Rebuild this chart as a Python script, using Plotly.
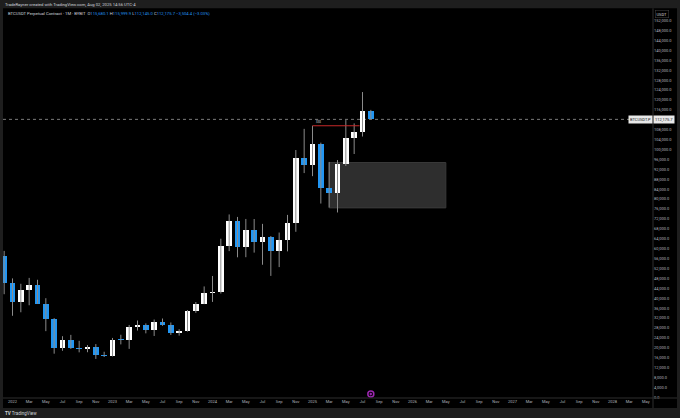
import plotly.graph_objects as go

# ---------------- data (monthly BTCUSDT perpetual, Bybit) ----------------
months = ["Dec 2021",
          "Jan 2022", "Feb 2022", "Mar 2022", "Apr 2022", "May 2022", "Jun 2022",
          "Jul 2022", "Aug 2022", "Sep 2022", "Oct 2022", "Nov 2022", "Dec 2022",
          "Jan 2023", "Feb 2023", "Mar 2023", "Apr 2023", "May 2023", "Jun 2023",
          "Jul 2023", "Aug 2023", "Sep 2023", "Oct 2023", "Nov 2023", "Dec 2023",
          "Jan 2024", "Feb 2024", "Mar 2024", "Apr 2024", "May 2024", "Jun 2024",
          "Jul 2024", "Aug 2024", "Sep 2024", "Oct 2024", "Nov 2024", "Dec 2024",
          "Jan 2025", "Feb 2025", "Mar 2025", "Apr 2025", "May 2025", "Jun 2025",
          "Jul 2025", "Aug 2025"]
opens = [56950,
         46200, 38480, 43170, 45510, 37630, 31800, 19930, 23300, 20050, 19420, 20490, 17160,
         16540, 23130, 23100, 28470, 29250, 27210, 30470, 29230, 25940, 26960, 34640, 37720,
         42280, 42580, 61160, 71330, 60670, 67530, 62770, 64630, 58980, 63330, 70290, 96400,
         93570, 102420, 84350, 82550, 94190, 104600, 107150, 115680.1]
highs = [59100,
         47990, 45820, 48190, 47440, 40000, 31960, 24670, 25200, 22800, 21080, 21480, 18390,
         23960, 25250, 29190, 31000, 29820, 31390, 31800, 30200, 27490, 35200, 38450, 44750,
         48970, 64000, 73800, 72800, 71980, 71960, 70000, 65100, 66500, 73620, 99800, 108350,
         109600, 102780, 95000, 95750, 111900, 110550, 123200, 115999.9]
lows = [41600,
        32900, 34320, 37150, 37700, 26700, 17600, 18780, 19520, 18150, 18190, 15480, 16260,
        16500, 21350, 19550, 26940, 25810, 24750, 28860, 25160, 24900, 26540, 34080, 37600,
        38500, 41870, 59000, 56500, 56550, 58400, 53500, 49000, 52550, 58900, 66800, 90500,
        89250, 78200, 76600, 74600, 93350, 98200, 105250, 112145.0]
closes = [46200,
          38480, 43170, 45510, 37630, 31800, 19930, 23300, 20050, 19420, 20490, 17160, 16540,
          23130, 23100, 28470, 29250, 27210, 30470, 29230, 25940, 26960, 34640, 37720, 42280,
          42580, 61160, 71330, 60670, 67530, 62770, 64630, 58980, 63330, 70290, 96400, 93570,
          102420, 84350, 82550, 94190, 104600, 107150, 115680.1, 112175.7]

# bar index: Jan 2022 = 0
idx = list(range(-1, len(months) - 1))

# time-axis labels (every 2 months), index 0 = Jan 2022
tick_idx = list(range(0, 77, 2))
month_abbr = ["Jan", "Feb", "Mar", "Apr", "May", "Jun", "Jul", "Aug", "Sep", "Oct", "Nov", "Dec"]
tick_txt = [str(2022 + i // 12) if i % 12 == 0 else month_abbr[i % 12] for i in tick_idx]

# price-axis labels
price_ticks = list(range(0, 152001, 4000))
price_txt = [f"{v:,.1f}" for v in price_ticks]

# drawings
zone_low, zone_high = 76450, 94750          # grey demand zone
zone_start, zone_end = 38, 52               # Mar 2025 -> May 2026
sweep_bar = months.index("Jan 2025")        # high used for red line
sweep_end = 41.65
icon_price = 1300

# ---------------- styling ----------------
BLUE = "#2196f3"
WHITE = "#ffffff"
WICK = "#8a8a8a"
TXT = "#b2b5be"
BAR_BG = "#1e1e1e"
LINE = "#2e2e2e"
FONT = "Roboto"
W, H = 680, 418

def px_x(p):
    return p / W

def px_y(p):
    return 1 - p / H

MIN_BODY = 400
body_base = [min(o, c) for o, c in zip(opens, closes)]
body_h = [max(abs(c - o), MIN_BODY) for o, c in zip(opens, closes)]
body_col = [WHITE if c >= o else BLUE for o, c in zip(opens, closes)]

wx, wy = [], []
for i, h, l in zip(idx, highs, lows):
    wx += [i, i, None]
    wy += [l, h, None]

fig = go.Figure()
fig.add_trace(go.Scatter(x=wx, y=wy, mode="lines", line=dict(color=WICK, width=1),
                         hoverinfo="skip", showlegend=False))
fig.add_trace(go.Bar(x=idx, y=body_h, base=body_base, width=0.68,
                     marker=dict(color=body_col, line=dict(width=0)),
                     hoverinfo="skip", showlegend=False))
fig.add_trace(go.Scatter(x=[idx[-1]], y=[icon_price], mode="markers",
                         marker=dict(symbol="circle-open-dot", size=6, color="#9c27b0",
                                     line=dict(width=1.5, color="#9c27b0")),
                         cliponaxis=False, hoverinfo="skip", showlegend=False))

shapes = []
# outer grey bars
shapes += [
    dict(type="rect", xref="paper", yref="paper", x0=0, x1=1, y0=px_y(8.3), y1=1,
         fillcolor=BAR_BG, line_width=0, layer="below"),
    dict(type="rect", xref="paper", yref="paper", x0=0, x1=1, y0=0, y1=px_y(408),
         fillcolor=BAR_BG, line_width=0, layer="below"),
    dict(type="rect", xref="paper", yref="paper", x0=0, x1=px_x(3), y0=0, y1=1,
         fillcolor=BAR_BG, line_width=0, layer="below"),
    dict(type="rect", xref="paper", yref="paper", x0=px_x(677), x1=1, y0=0, y1=1,
         fillcolor=BAR_BG, line_width=0, layer="below"),
    # separators
    dict(type="line", xref="paper", yref="paper", x0=px_x(3), x1=px_x(677),
         y0=px_y(398), y1=px_y(398), line=dict(color=LINE, width=1)),
    dict(type="line", xref="paper", yref="paper", x0=px_x(653), x1=px_x(653),
         y0=px_y(8.3), y1=px_y(408), line=dict(color=LINE, width=1)),
]
# grey zone
shapes.append(dict(type="rect", xref="x", yref="y", x0=zone_start, x1=zone_end,
                   y0=zone_low, y1=zone_high, fillcolor="#2e2e2e",
                   line=dict(color="#3a3a3a", width=1), layer="below"))
# dotted last price line
shapes.append(dict(type="line", xref="paper", yref="y", x0=px_x(3), x1=px_x(632),
                   y0=closes[-1], y1=closes[-1],
                   line=dict(color="#7a7a7a", width=1, dash="dot"), layer="below"))
# red line from Jan 2025 high
shapes.append(dict(type="line", xref="x", yref="y", x0=idx[sweep_bar], x1=sweep_end,
                   y0=highs[sweep_bar], y1=highs[sweep_bar],
                   line=dict(color="#c62828", width=1)))

prev_close = closes[-2]
chg = closes[-1] - prev_close
pct = chg / prev_close * 100

def blue(s):
    return f"<span style='color:{BLUE}'>{s}</span>"

legend_txt = ("BTCUSDT Perpetual Contract · 1M · BYBIT  "
              f"O{blue(f'{opens[-1]:,.1f}')} H{blue(f'{highs[-1]:,.1f}')} "
              f"L{blue(f'{lows[-1]:,.1f}')} C{blue(f'{closes[-1]:,.1f}')} "
              + blue(f"−{abs(chg):,.1f} (−{abs(pct):.2f}%)"))

annotations = [
    dict(xref="paper", yref="paper", x=px_x(3), y=px_y(4.3), xanchor="left", yanchor="middle",
         text="TradeRayner created with TradingView.com, Aug 02, 2025 14:56 UTC-4",
         showarrow=False, font=dict(family=FONT, size=4.2, color="#d1d4dc")),
    dict(xref="paper", yref="paper", x=px_x(6), y=px_y(14), xanchor="left", yanchor="middle",
         text=legend_txt, showarrow=False, font=dict(family=FONT, size=4.2, color="#d1d4dc")),
    dict(xref="paper", yref="paper", x=px_x(655), y=px_y(14.5), xanchor="left", yanchor="middle",
         text="USDT", showarrow=False, bordercolor="#444", borderwidth=0.5, borderpad=1,
         font=dict(family=FONT, size=4, color="#d1d4dc")),
    dict(xref="paper", yref="y", x=px_x(653), y=closes[-1], xanchor="right", yanchor="middle",
         text="BTCUSDT.P", showarrow=False, bgcolor="#e8e8e8", borderpad=1,
         font=dict(family=FONT, size=4, color="#131722")),
    dict(xref="paper", yref="y", x=px_x(653), y=closes[-1], xanchor="left", yanchor="middle",
         text=f"{closes[-1]:,.1f}", showarrow=False, bgcolor="#e8e8e8", borderpad=1,
         font=dict(family=FONT, size=4, color="#131722")),
    dict(xref="x", yref="y", x=idx[sweep_bar] + 0.15, y=highs[sweep_bar], xanchor="left",
         yanchor="bottom", text="$$$", showarrow=False,
         font=dict(family=FONT, size=3, color="#cfcfcf")),
    dict(xref="paper", yref="paper", x=px_x(3), y=px_y(413), xanchor="left", yanchor="middle",
         text="<b>TV</b> TradingView", showarrow=False,
         font=dict(family=FONT, size=4.5, color="#d1d4dc")),
]

fig.update_layout(
    width=W, height=H,
    margin=dict(l=0, r=0, t=0, b=0, autoexpand=False),
    paper_bgcolor="#000000",
    plot_bgcolor="rgba(0,0,0,0)",
    font=dict(family=FONT, size=4, color=TXT),
    showlegend=False,
    bargap=0,
    shapes=shapes,
    annotations=annotations,
    hovermode=False,
    xaxis=dict(domain=[px_x(3), px_x(653)], range=[(3 - 12.5) / 8.3333, (653 - 12.5) / 8.3333],
               tickmode="array", tickvals=tick_idx, ticktext=tick_txt,
               showgrid=False, zeroline=False, showline=False, ticks="",
               tickfont=dict(family=FONT, size=4, color=TXT), automargin=False,
               fixedrange=True),
    yaxis=dict(domain=[1 - 398 / H, 1 - 8.3 / H], range=[-283, 157006], side="right",
               tickmode="array", tickvals=price_ticks, ticktext=price_txt,
               showgrid=False, zeroline=False, showline=False, ticks="",
               tickfont=dict(family=FONT, size=4, color=TXT), automargin=False,
               fixedrange=True),
)

fig.write_html("out.html", config={"displayModeBar": False, "staticPlot": True},
               post_script="document.body.style.margin='0';document.body.style.padding='0';"
                           "document.body.style.overflow='hidden';")
